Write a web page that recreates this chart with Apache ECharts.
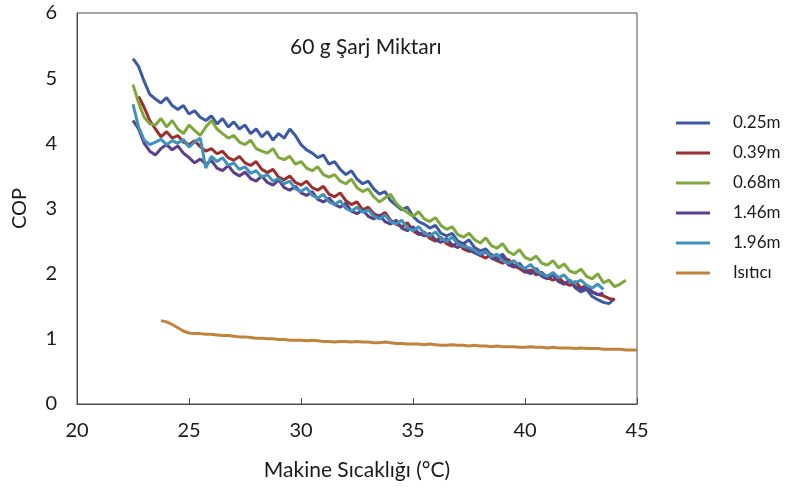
<!DOCTYPE html>
<html>
<head>
<meta charset="utf-8">
<script src="https://cdn.jsdelivr.net/npm/echarts@6/dist/echarts.min.js"></script>
<style>html,body{margin:0;padding:0;background:#fff}#c{width:795px;height:491px}</style>
</head>
<body>
<div id="c"></div>
<script>
const temps = [22.5,22.75,23,23.25,23.5,23.75,24,24.25,24.5,24.75,25,25.25,25.5,25.75,26,26.25,26.5,26.75,27,27.25,
27.5,27.75,28,28.25,28.5,28.75,29,29.25,29.5,29.75,30,30.25,30.5,30.75,31,31.25,31.5,31.75,32,32.25,
32.5,32.75,33,33.25,33.5,33.75,34,34.25,34.5,34.75,35,35.25,35.5,35.75,36,36.25,36.5,36.75,37,37.25,
37.5,37.75,38,38.25,38.5,38.75,39,39.25,39.5,39.75,40,40.25,40.5,40.75,41,41.25,41.5,41.75,42,42.25,
42.5,42.75,43,43.25,43.5,43.75,44,44.25,44.5,44.75,45];

const cop025 = [5.30,5.18,4.95,4.75, 4.68,4.62,4.70,4.58, 4.52,4.58,4.45,4.50, 4.40,4.35,4.42,4.30, 4.38,4.25,4.33,4.22,
4.28,4.15,4.22,4.10, 4.18,4.05,4.15,4.08, 4.22,4.12,3.98,3.90, 3.85,3.78,3.82,3.68, 3.72,3.60,3.52,3.58,
3.45,3.38,3.42,3.30, 3.22,3.26,3.12,3.05, 2.98,3.02,2.88,2.80, 2.76,2.70,2.74,2.62, 2.58,2.62,2.50,2.46,
2.52,2.40,2.35,2.38, 2.28,2.24,2.30,2.18, 2.12,2.16,2.06,2.02, 2.08,1.98,1.94,1.99, 1.88,1.84,1.90,1.78,
1.72,1.76,1.65,1.60, 1.56,1.54,1.62];

const cop039 = [null,4.72,4.55,4.35, 4.22,4.10,4.18,4.08, 4.12,4.02,3.98,4.04, 3.95,3.88,3.92,3.84, 3.88,3.78,3.74,3.80,
3.70,3.66,3.72,3.60, 3.55,3.60,3.48,3.44, 3.50,3.40,3.36,3.42, 3.32,3.28,3.34,3.22, 3.18,3.24,3.12,3.06,
3.10,2.98,3.02,2.92, 2.88,2.94,2.82,2.76, 2.72,2.78,2.66,2.60, 2.64,2.54,2.50,2.56, 2.46,2.42,2.48,2.38,
2.34,2.38,2.28,2.24, 2.30,2.20,2.16,2.22, 2.12,2.08,2.02,2.06, 1.98,2.02,1.94,1.90, 1.94,1.86,1.82,1.88,
1.78,1.82,1.72,1.68, 1.66,1.62,1.60];

const cop068 = [4.90,4.62,4.40,4.30, 4.28,4.38,4.25,4.35, 4.22,4.15,4.28,4.20, 4.12,4.25,4.35,4.22, 4.15,4.08,4.12,4.02,
3.98,4.05,3.92,3.88, 3.85,3.92,3.78,3.75, 3.80,3.68,3.72,3.62, 3.58,3.64,3.52,3.48, 3.52,3.42,3.38,3.45,
3.32,3.26,3.30,3.18, 3.10,3.16,3.22,3.08, 3.00,2.94,2.88,2.95, 2.84,2.80,2.86,2.74, 2.68,2.72,2.60,2.56,
2.62,2.52,2.47,2.55, 2.43,2.39,2.46,2.34, 2.29,2.37,2.25,2.21, 2.27,2.16,2.13,2.20, 2.09,2.15,2.04,2.01,
2.07,1.96,1.92,2.00, 1.86,1.90,1.80,1.84, 1.90];

const cop146 = [4.35,4.22,4.00,3.88, 3.82,3.92,3.98,3.90, 3.96,3.85,3.78,3.70, 3.76,3.68,3.74,3.62, 3.58,3.66,3.55,3.50,
3.56,3.46,3.42,3.50, 3.40,3.36,3.44,3.32, 3.28,3.34,3.24,3.20, 3.26,3.14,3.10,3.16, 3.06,3.02,3.08,2.96,
2.92,2.98,2.88,2.84, 2.90,2.80,2.76,2.82, 2.70,2.66,2.72,2.62, 2.58,2.62,2.52,2.48, 2.54,2.44,2.40,2.46,
2.36,2.32,2.28,2.34, 2.24,2.20,2.26,2.14, 2.10,2.14,2.04,2.00, 2.04,1.96,1.92,1.98, 1.88,1.84,1.90,1.80,
1.76,1.80,1.72,1.68, 1.70];

const cop196 = [4.60,4.25,4.05,3.98, 4.02,4.06,3.98,4.04, 4.00,4.06,3.94,4.02, 4.08,3.62,3.80,3.72, 3.78,3.66,3.70,3.60,
3.64,3.54,3.58,3.48, 3.52,3.42,3.46,3.38, 3.42,3.30,3.26,3.32, 3.20,3.16,3.22,3.10, 3.06,3.12,3.00,2.96,
3.02,2.94,2.98,2.88, 2.84,2.90,2.80,2.76, 2.82,2.70,2.66,2.72, 2.62,2.58,2.64,2.54, 2.50,2.56,2.46,2.42,
2.40,2.36,2.30,2.34, 2.26,2.30,2.20,2.16, 2.20,2.12,2.08,2.14, 2.04,2.00,1.96,2.02, 1.94,1.98,1.88,1.86,
1.90,1.82,1.78,1.84, 1.76];

const copHeater = [null,null,null,null,null, 1.28,1.26,1.22,1.17,1.12, 1.09,1.08,1.08,1.07,1.07, 1.06,1.05,1.05,1.04,1.03,
1.03,1.02,1.01,1.01,1.00, 1.00,0.99,0.99,0.98,0.98, 0.98,0.97,0.98,0.97,0.96, 0.96,0.95,0.96,0.96,0.95,
0.96,0.95,0.95,0.94,0.94, 0.95,0.94,0.93,0.93,0.92, 0.92,0.92,0.91,0.92,0.91, 0.90,0.90,0.91,0.90,0.90,
0.89,0.90,0.89,0.89,0.88, 0.89,0.88,0.88,0.88,0.87, 0.87,0.88,0.87,0.87,0.86, 0.87,0.86,0.86,0.86,0.85,
0.86,0.85,0.85,0.85,0.84, 0.84,0.84,0.84,0.83,0.83, 0.83];

const seriesNames = ['0.25m','0.39m','0.68m','1.46m','1.96m','Isıtıcı'];
const seriesValues = [cop025, cop039, cop068, cop146, cop196, copHeater];
const colors = ['#3b5aa3','#9c2f2c','#7fa83c','#5b3f8c','#3f92b9','#c1833c'];
const xTicks = [20,25,30,35,40,45];
const yTicks = [0,1,2,3,4,5,6];

const FONT = 'Lato';
const chart = echarts.init(document.getElementById('c'), null, {renderer:'canvas'});

function pairs(vals){
  const out = [];
  vals.forEach((v,i)=>{ if(v!==null && v!==undefined) out.push([temps[i], v]); });
  return out;
}

chart.setOption({
  animation:false,
  backgroundColor:'#ffffff',
  color: colors,
  title:{
    text:'60 g Şarj Miktarı',
    left: 285, top: 32,
    textStyle:{fontFamily:FONT, fontSize:21, fontWeight:'normal', color:'#1a1a1a'}
  },
  legend:{
    orient:'vertical',
    left:671, top:108,
    icon:'rect',
    itemWidth:34, itemHeight:3,
    itemGap:10,
    data: seriesNames,
    textStyle:{fontFamily:FONT, fontSize:17, color:'#1a1a1a', lineHeight:20, padding:[0,0,0,18]}
  },
  grid:{
    left:77, top:13, width:560, height:391,
    show:true, borderColor:'#4d4d4d', borderWidth:1, backgroundColor:'transparent'
  },
  xAxis:{
    type:'value', min:xTicks[0], max:xTicks[xTicks.length-1], interval:5,
    name:'Makine Sıcaklığı (°C)', nameLocation:'middle', nameGap:56,
    nameTextStyle:{fontFamily:FONT, fontSize:21, color:'#1a1a1a'},
    axisLine:{show:true, lineStyle:{color:'#4d4d4d', width:1}},
    axisTick:{show:true, inside:true, length:6, lineStyle:{color:'#4d4d4d'}},
    axisLabel:{fontFamily:FONT, fontSize:20, color:'#1a1a1a', margin:17},
    splitLine:{show:false}
  },
  yAxis:{
    type:'value', min:yTicks[0], max:yTicks[yTicks.length-1], interval:1,
    name:'COP', nameLocation:'middle', nameGap:47, nameRotate:90,
    nameTextStyle:{fontFamily:FONT, fontSize:20, color:'#1a1a1a'},
    axisLine:{show:true, lineStyle:{color:'#4d4d4d', width:1}},
    axisTick:{show:false},
    axisLabel:{fontFamily:FONT, fontSize:20, color:'#1a1a1a', margin:20},
    splitLine:{show:false}
  },
  series: seriesNames.map((n,k)=>({
    name:n, type:'line', data:pairs(seriesValues[k]),
    showSymbol:false, symbol:'none',
    lineStyle:{width:3, color:colors[k]},
    itemStyle:{color:colors[k]}
  }))
});
</script>
</body>
</html>
